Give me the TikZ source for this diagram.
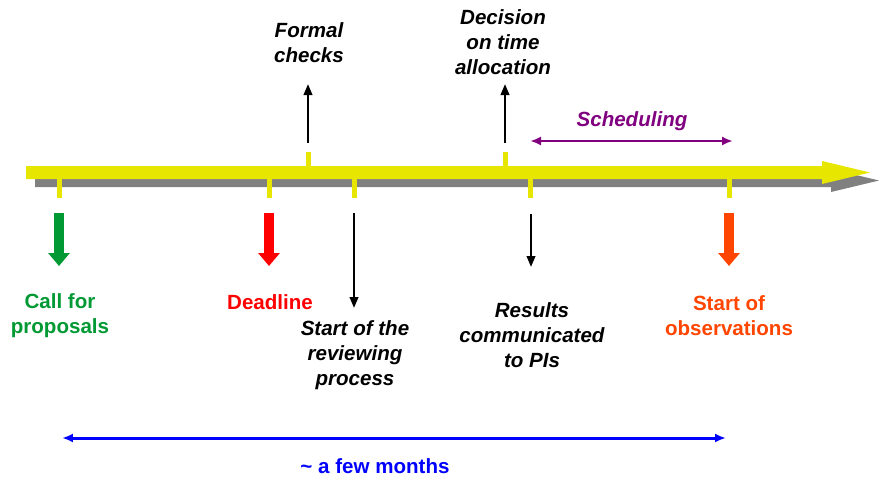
\documentclass[tikz,border=0pt]{standalone}
\usepackage{fontspec}
\setmainfont{Liberation Sans}
\usetikzlibrary{arrows.meta}

\definecolor{axisyellow}{RGB}{230,230,0}
\definecolor{axisgray}{RGB}{128,128,128}
\definecolor{callgreen}{RGB}{0,153,51}
\definecolor{obsorange}{RGB}{255,69,0}
\definecolor{schedpurple}{RGB}{128,0,128}

\begin{document}
\begin{tikzpicture}[x=0.02cm, y=-0.02cm,
    every node/.style={font=\fontsize{11.7}{14.2}\selectfont\bfseries, align=center, inner sep=0pt},
    note/.style={font=\fontsize{11.7}{14.2}\selectfont\bfseries\itshape},
    tick/.style={axisyellow, line width=0.1cm},
    bigarrow/.style={line width=0.2cm, -{Triangle[width=0.42cm, length=0.26cm]}},
    thinarrow/.style={line width=0.045cm, -{Triangle[width=0.17cm, length=0.22cm]}},
    span/.style={{Latex[length=0.22cm, width=0.18cm]}-{Latex[length=0.22cm, width=0.18cm]}}]
    \useasboundingbox (0,0) rectangle (879,477);

    % time axis and its shadow
    \fill [axisgray] (35,174) -- (831,174) -- (831,169) -- (879,180.5)
        -- (831,192) -- (831,187) -- (35,187) -- cycle;
    \fill [axisyellow] (26,166) -- (822,166) -- (822,161) -- (870,172.5)
        -- (822,184) -- (822,179) -- (26,179) -- cycle;

    \foreach \x in {59, 269, 354, 530, 729}
        \draw [tick] (\x,178) -- (\x,198);
    \foreach \x in {308, 505}
        \draw [tick] (\x,152) -- (\x,167);

    % events below the axis
    \node [text=callgreen] (call) at (60,316) {Call for\\proposals};
    \node [text=red] (deadline) at (270,302) {Deadline};
    \node [note] (review) at (355,355) {Start of the\\reviewing\\process};
    \node [note] (results) at (532,335) {Results\\communicated\\to PIs};
    \node [text=obsorange] (obs) at (729,316) {Start of\\observations};

    \coordinate (call top) at (59,213);
    \coordinate (call tip) at (59,266);
    \coordinate (deadline top) at (269,213);
    \coordinate (deadline tip) at (269,266);
    \coordinate (review top) at (354,213);
    \coordinate (review tip) at (354,308);
    \coordinate (results top) at (531,214);
    \coordinate (results tip) at (531,267);
    \coordinate (obs top) at (729,213);
    \coordinate (obs tip) at (729,266);

    \draw [bigarrow, callgreen] (call top) -- (call tip);
    \draw [bigarrow, red] (deadline top) -- (deadline tip);
    \draw [bigarrow, obsorange] (obs top) -- (obs tip);
    \draw [thinarrow] (review top) -- (review tip);
    \draw [thinarrow] (results top) -- (results tip);

    % events above the axis
    \node [note] (formal) at (309,43) {Formal\\checks};
    \node [note] (decision) at (503,42) {Decision\\on time\\allocation};

    \coordinate (formal foot) at (308,143);
    \coordinate (formal tip) at (308,84);
    \coordinate (decision foot) at (505,143);
    \coordinate (decision tip) at (505,84);

    \draw [thinarrow] (formal foot) -- (formal tip);
    \draw [thinarrow] (decision foot) -- (decision tip);

    % spans
    \node [note, text=schedpurple] (sched) at (632,121) {Scheduling};
    \coordinate (sched start) at (530,141);
    \coordinate (sched end) at (733,141);
    \draw [span, schedpurple, line width=0.045cm] (sched start) -- (sched end);

    \node [text=blue] (months) at (375,466) {\textasciitilde{} a few months};
    \coordinate (months start) at (62,438);
    \coordinate (months end) at (726,438);
    \draw [span, blue, line width=0.06cm] (months start) -- (months end);
\end{tikzpicture}
\end{document}
